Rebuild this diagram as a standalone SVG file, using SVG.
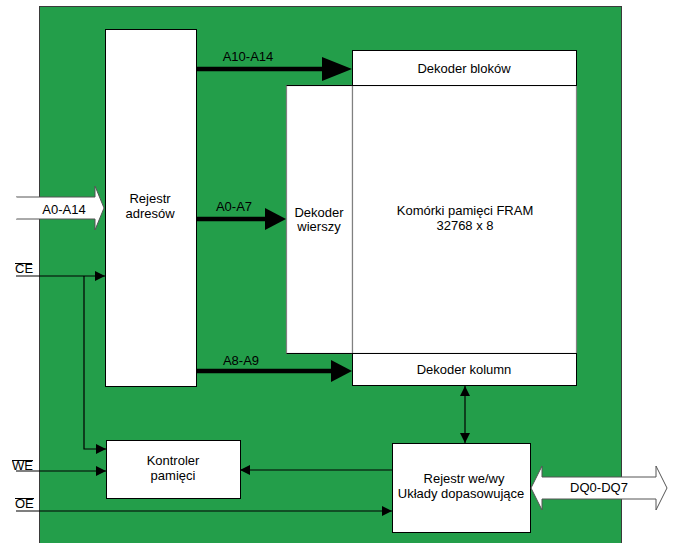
<svg xmlns="http://www.w3.org/2000/svg" width="673" height="543" viewBox="0 0 673 543">
<style>
text{font-family:"Liberation Sans",Arial,sans-serif;font-size:13px;fill:#000;text-anchor:middle}
.box{fill:#fff;stroke:#000;stroke-width:1}
.gbox{fill:#fff;stroke:#808080;stroke-width:1.2}
.thin{stroke:#000;stroke-width:1.2;fill:none}
.thick{stroke:#000;stroke-width:4.5;fill:none}
.hollow{fill:#fff;stroke:#555;stroke-width:1}
.lbl{text-anchor:start}
</style>
<defs>
<marker id="ah" viewBox="0 0 10 10" refX="10" refY="5" markerWidth="10" markerHeight="10" markerUnits="userSpaceOnUse" orient="auto-start-reverse">
<path d="M0,0L10,5L0,10z" fill="#000"/>
</marker>
</defs>
<rect id="board" x="39.5" y="6.5" width="582" height="540" fill="#239e4a" stroke="#3a3a3a" stroke-width="1"/>
<g id="rejestr-adresow">
<rect class="box" x="105.5" y="29.5" width="91" height="357"/>
<text x="150" y="203">Rejestr</text>
<text x="150" y="218">adresów</text>
</g>
<g id="dekoder-wierszy">
<rect class="gbox" x="286.5" y="85.5" width="66" height="268"/>
<rect x="286.5" y="85.5" width="66" height="268" fill="none" stroke="#000" stroke-width="1" stroke-dasharray="66 268 0 0"/>
<text x="319" y="217">Dekoder</text>
<text x="319" y="231">wierszy</text>
</g>
<g id="komorki">
<rect class="gbox" x="352.5" y="85.5" width="224" height="268"/>
<text x="465" y="215">Komórki pamięci FRAM</text>
<text x="465" y="230">32768 x 8</text>
</g>
<g id="dekoder-blokow">
<rect class="box" x="352.5" y="50.5" width="224" height="35"/>
<text x="464" y="73">Dekoder bloków</text>
</g>
<g id="dekoder-kolumn">
<rect class="box" x="352.5" y="353.5" width="224" height="32"/>
<text x="464" y="374">Dekoder kolumn</text>
</g>
<g id="kontroler">
<rect class="box" x="106.5" y="440.5" width="134" height="58"/>
<text x="173" y="465">Kontroler</text>
<text x="173" y="480">pamięci</text>
</g>
<g id="rejestr-weyw">
<rect class="box" x="392.5" y="443.5" width="138" height="89"/>
<text x="464" y="483">Rejestr we/wy</text>
<text x="461" y="498">Układy dopasowujące</text>
</g>
<g id="connectors">
<line class="thick" x1="197" y1="69" x2="322" y2="69"/>
<path d="M322,57L352,69L322,81z" fill="#000"/>
<line class="thick" x1="197" y1="219" x2="265" y2="219"/>
<path d="M265,208L286,219L265,230z" fill="#000"/>
<line class="thick" x1="197" y1="371" x2="331" y2="371"/>
<path d="M331,360L352,371L331,382z" fill="#000"/>
<path class="hollow" d="M16,197H95V186L104,208L95,230V219H16"/>
<rect x="15" y="197.5" width="2" height="21" fill="#fff"/>
<path class="hollow" d="M531,488L542,466V477H656V466L667,488L656,510V499H542V510z"/>
<line class="thin" x1="16" y1="276" x2="105" y2="276" marker-end="url(#ah)"/>
<polyline class="thin" points="84,276 84,449 106,449" marker-end="url(#ah)"/>
<line class="thin" x1="16" y1="471" x2="106" y2="471" marker-end="url(#ah)"/>
<line class="thin" x1="16" y1="511" x2="392" y2="511" marker-end="url(#ah)"/>
<line class="thin" x1="392" y1="470" x2="240" y2="470" marker-end="url(#ah)"/>
<line class="thin" x1="465" y1="386" x2="465" y2="443" marker-start="url(#ah)" marker-end="url(#ah)"/>
</g>
<g id="labels">
<text x="248" y="61">A10-A14</text>
<text x="234" y="211">A0-A7</text>
<text x="241" y="365">A8-A9</text>
<text x="64" y="214">A0-A14</text>
<text x="599" y="492">DQ0-DQ7</text>
<text class="lbl" x="15" y="273">CE</text>
<line x1="15" y1="263.5" x2="32" y2="263.5" stroke="#000" stroke-width="1"/>
<text class="lbl" x="12" y="470">WE</text>
<line x1="12" y1="460.5" x2="33" y2="460.5" stroke="#000" stroke-width="1"/>
<text class="lbl" x="15" y="508">OE</text>
<line x1="15" y1="498.5" x2="34" y2="498.5" stroke="#000" stroke-width="1"/>
</g>
</svg>
